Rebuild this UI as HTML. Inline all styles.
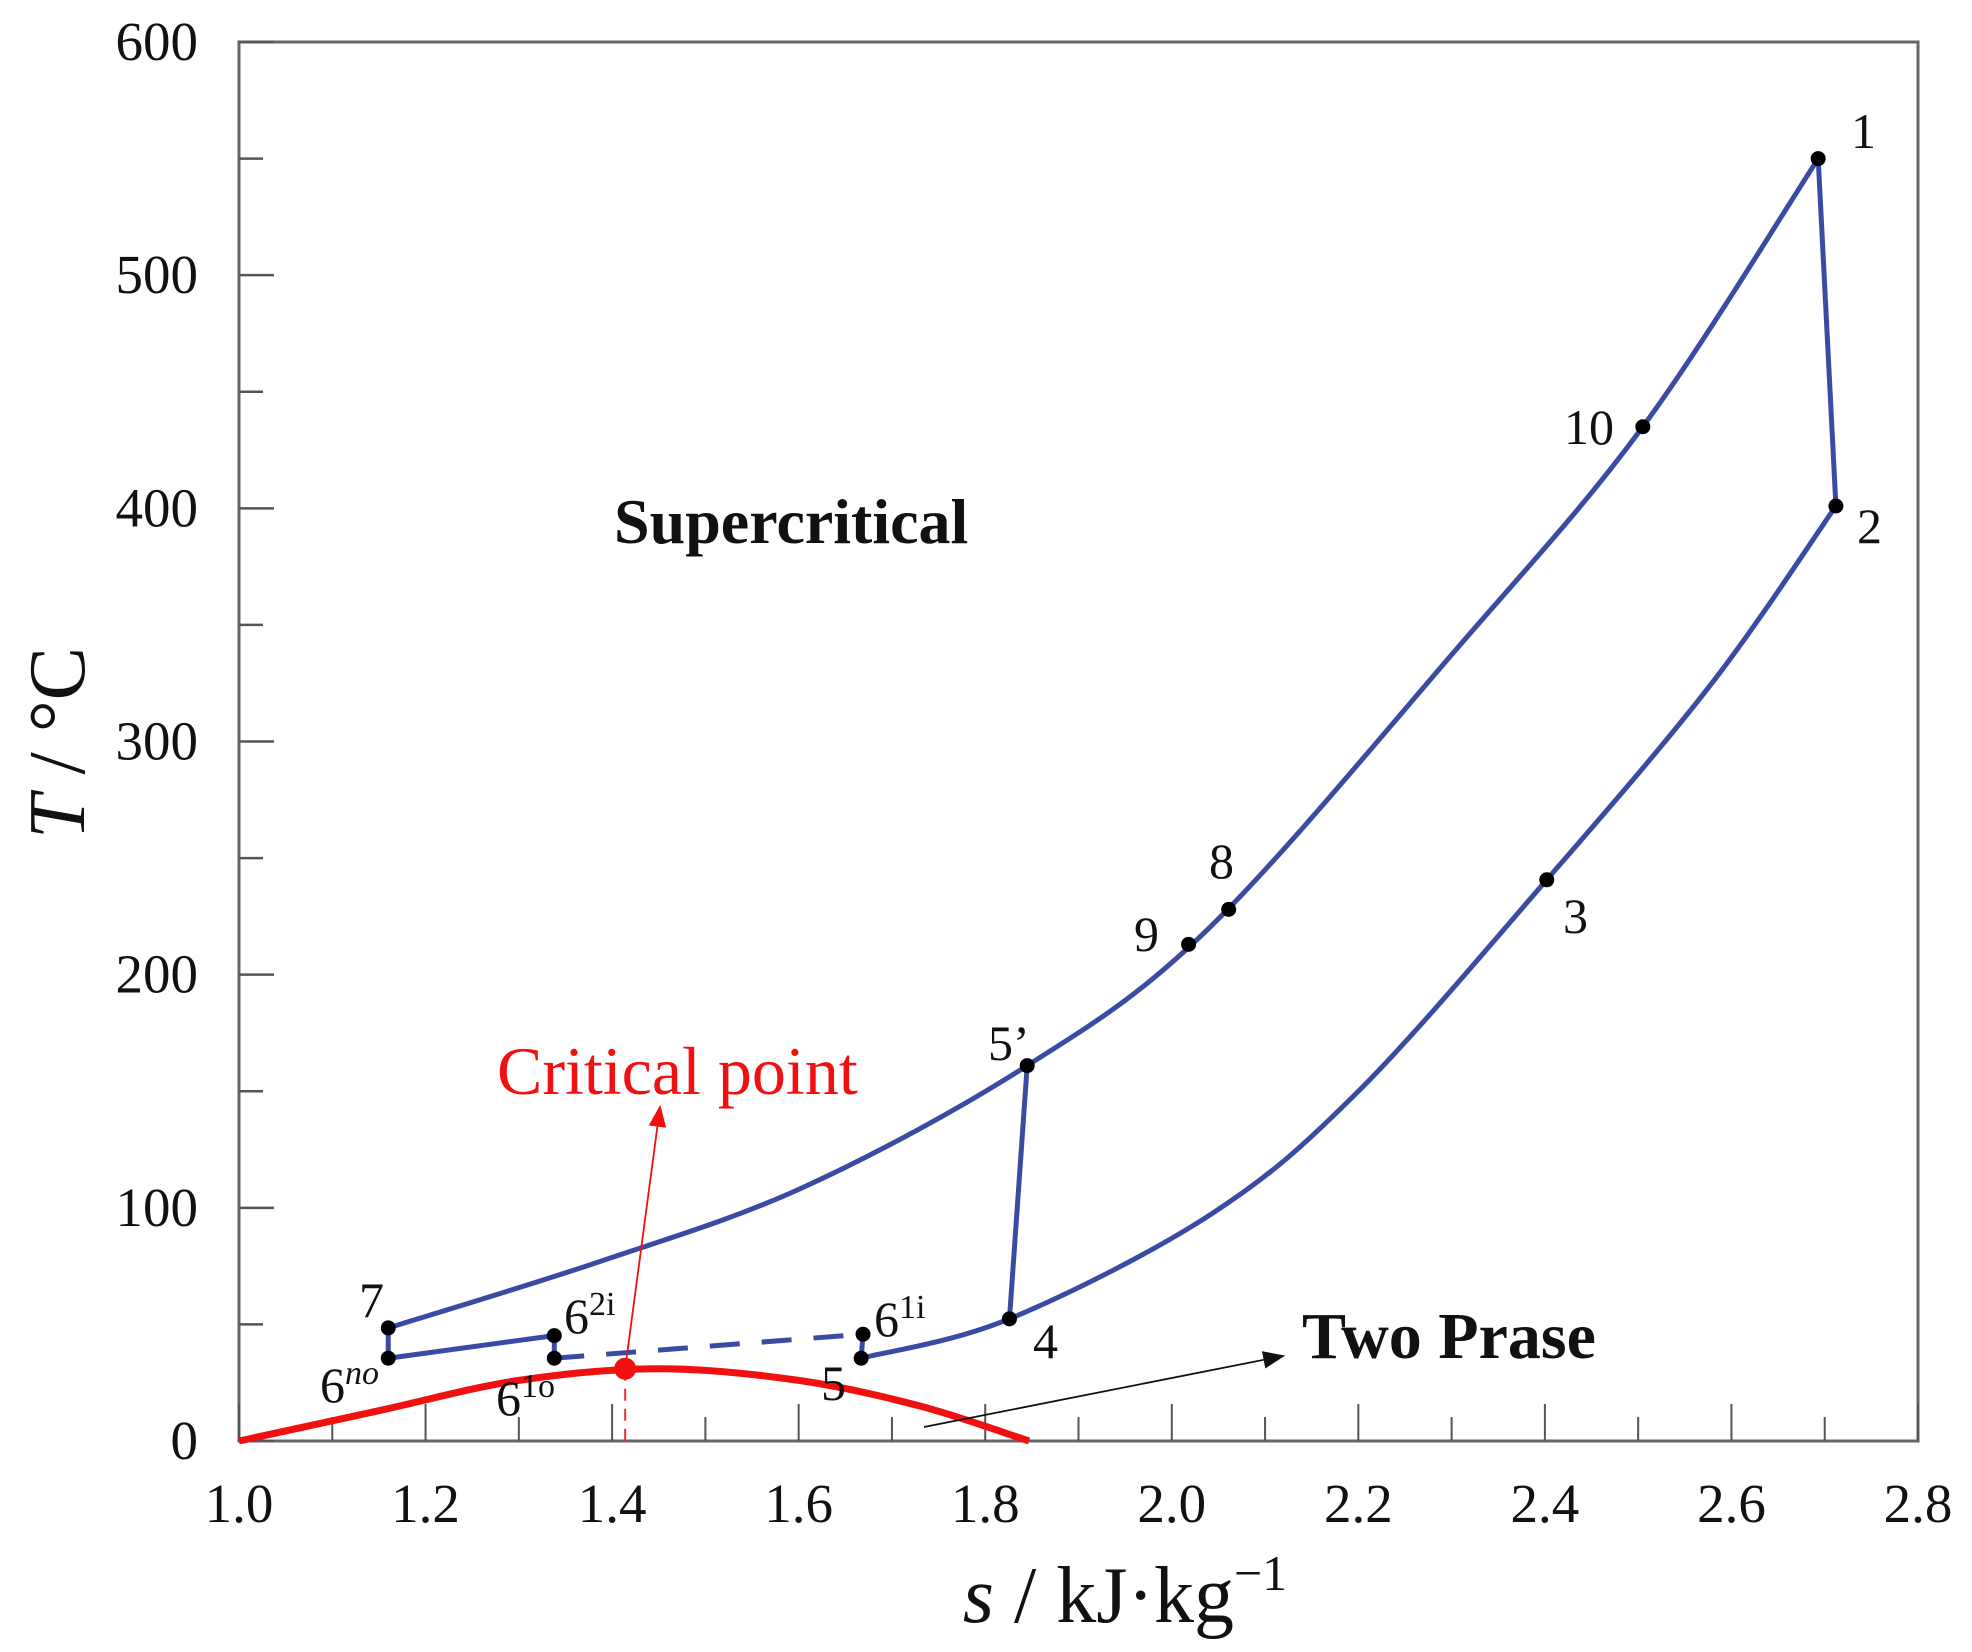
<!DOCTYPE html>
<html><head><meta charset="utf-8"><style>
html,body{margin:0;padding:0;background:#fff;}
svg{display:block;font-family:"Liberation Serif",serif;}
</style></head><body>
<svg id="chart" width="1972" height="1652" viewBox="0 0 1972 1652">
<g id="axes"></g>
<g id="marks"></g>
<g id="labels"></g>
</svg>
<script>
// ---- data (s in kJ/kg·K, T in °C) ----
const xTicks = [1.0,1.2,1.4,1.6,1.8,2.0,2.2,2.4,2.6,2.8];
const xTickLabels = ["1.0","1.2","1.4","1.6","1.8","2.0","2.2","2.4","2.6","2.8"];
const yTicks = [0,100,200,300,400,500,600];
const yTickLabels = ["0","100","200","300","400","500","600"];
const highS = [1.16,1.387,1.606,1.845,2.04,2.306,2.505,2.693];
const highT = [48.5,77,109,161,220,340,435,550];
const lowS = [1.667,1.826,2.043,2.2,2.402,2.579,2.712];
const lowT = [35.5,52.4,97.5,150,240.7,325,401];
const domeS = [1.0,1.15,1.3,1.45,1.6,1.73,1.847];
const domeT = [0,13,26,31,26,15,0];
const ptNames = ["1","2","3","4","5","5’","9","8","10","7","6no","6-2i","6-1o","6-1i"];
const ptS = [2.693,2.712,2.402,1.826,1.667,1.845,2.018,2.061,2.505,1.16,1.16,1.338,1.338,1.669];
const ptT = [550,401,240.7,52.4,35.5,161,213,228,435,48.5,35.5,45.2,35.5,45.8];
const critS = [1.414];
const critT = [31];

const X0=239,X1=1918,Y0=1441,Y1=42;
const xs = s => X0+(s-1.0)/(2.8-1.0)*(X1-X0);
const yt = t => Y0-(t/600)*(Y0-Y1);
const NS="http://www.w3.org/2000/svg";
function mk(tag,attrs,parent,text){const e=document.createElementNS(NS,tag);for(const k in attrs)e.setAttribute(k,attrs[k]);if(text!==undefined)e.textContent=text;parent.appendChild(e);return e;}
const axes=document.getElementById('axes'),marks=document.getElementById('marks'),labels=document.getElementById('labels');

const fr=mk('rect',{x:X0,y:Y1,width:X1-X0,height:Y0-Y1,fill:'none',stroke:'#666','stroke-width':3},axes);


for(let i=0;i<=18;i++){const s=1+i*0.1;const len=(i%2===0)?37:24;
 const l=mk('line',{x1:xs(s),x2:xs(s),y1:Y0,y2:Y0-len,stroke:'#555','stroke-width':2},axes);
 
 }
xTicks.forEach((v,i)=>{const t=mk('text',{x:xs(v),y:1522,'font-size':55,'text-anchor':'middle',fill:'#111'},axes,xTickLabels[i]);
 
 });
for(let i=0;i<=12;i++){const t=i*50;const len=(i%2===0)?35:24;
 const l=mk('line',{x1:X0,x2:X0+len,y1:yt(t),y2:yt(t),stroke:'#555','stroke-width':2.5},axes);
 
 }
yTicks.forEach((v,i)=>{const t=mk('text',{x:198,y:yt(v)+18,'font-size':55,'text-anchor':'end',fill:'#111'},axes,yTickLabels[i]);
 
 });
const xt=mk('text',{x:1125,y:1622,'font-size':80,'text-anchor':'middle',fill:'#111'},axes);


xt.innerHTML='<tspan font-style="italic">s</tspan> / kJ·kg<tspan dy="-32" font-size="50">−1</tspan>';
const ytl=mk('text',{x:0,y:0,'font-size':80,'text-anchor':'middle',fill:'#111',transform:'translate(84,743) rotate(-90)'},axes);


ytl.innerHTML='<tspan font-style="italic">T</tspan> / °C';

function smooth(S,T){const p=S.map((s,i)=>[xs(s),yt(T[i])]);let d='M'+p[0][0]+','+p[0][1];
 for(let i=0;i<p.length-1;i++){const a=p[i-1]||p[i],b=p[i],c=p[i+1],e=p[i+2]||c;
  const c1=[b[0]+(c[0]-a[0])/6,b[1]+(c[1]-a[1])/6],c2=[c[0]-(e[0]-b[0])/6,c[1]-(e[1]-b[1])/6];
  d+=` C${c1[0]},${c1[1]} ${c2[0]},${c2[1]} ${c[0]},${c[1]}`;}return d;}
const BLUE='#3a4ba3';
const dome=mk('path',{d:smooth(domeS,domeT),fill:'none',stroke:'#f01010','stroke-width':7},marks);


const hp=mk('path',{d:smooth(highS,highT),fill:'none',stroke:BLUE,'stroke-width':5},marks);


const lp=mk('path',{d:smooth(lowS,lowT),fill:'none',stroke:BLUE,'stroke-width':5},marks);


function seg(i,j,name,dash){const a={x1:xs(ptS[i]),y1:yt(ptT[i]),x2:xs(ptS[j]),y2:yt(ptT[j]),stroke:BLUE,'stroke-width':5};if(dash)a['stroke-dasharray']=dash;
 const l=mk('line',a,marks);
 
 }
seg(0,1,'expansion-1-2');
seg(5,3,'compression-5p-4');
seg(9,10,'segment-7-6no');
seg(10,11,'segment-6no-6-2i');
seg(11,12,'segment-6-2i-6-1o');
seg(12,13,'dashed-6-1o-6-1i','30 22');
seg(13,4,'segment-6-1i-5');
const cx=xs(critS[0]),cy=yt(critT[0]);
const vg=mk('line',{x1:cx,y1:cy,x2:cx,y2:Y0,stroke:'#f03030','stroke-width':2,'stroke-dasharray':'12 8'},marks);


const cp=mk('circle',{cx:cx,cy:cy,r:11,fill:'#f01010'},marks);


ptS.forEach((s,i)=>{const c=mk('circle',{cx:xs(s),cy:yt(ptT[i]),r:7.5,fill:'#000'},marks);
 
 });
mk('defs',{},labels).innerHTML='<marker id="arR" viewBox="0 0 10 8" markerWidth="22" markerHeight="18" refX="9" refY="4" orient="auto" markerUnits="userSpaceOnUse"><path d="M0,0 L10,4 L0,8z" fill="#f01010"/></marker><marker id="arK" viewBox="0 0 10 8" markerWidth="22" markerHeight="18" refX="9" refY="4" orient="auto" markerUnits="userSpaceOnUse"><path d="M0,0 L10,4 L0,8z" fill="#111"/></marker>';
const ra=mk('line',{x1:cx,y1:cy,x2:660,y2:1107,stroke:'#f01010','stroke-width':1.8,'marker-end':'url(#arR)'},labels);


const ka=mk('line',{x1:924,y1:1427,x2:1283,y2:1356,stroke:'#111','stroke-width':1.8,'marker-end':'url(#arK)'},labels);


function lab(x,y,html,name,size,extra){const t=mk('text',Object.assign({x:x,y:y,'font-size':size||50,fill:'#111'},extra||{}),labels);t.innerHTML=html;
 
 return t;}
lab(1851,148,'1','label-1');
lab(1857,543,'2','label-2');
lab(1563,933,'3','label-3');
lab(1033,1358,'4','label-4');
lab(821,1400,'5','label-5');
lab(988,1060,'5’','label-5-prime');
lab(1134,951,'9','label-9');
lab(1209,878,'8','label-8');
lab(1564,444,'10','label-10');
lab(359,1317,'7','label-7');
lab(320,1402,'6<tspan dy="-18" font-size="34" font-style="italic">no</tspan>','label-6no');
lab(496,1415,'6<tspan dy="-18" font-size="34">1o</tspan>','label-6-1o');
lab(564,1333,'6<tspan dy="-18" font-size="34">2i</tspan>','label-6-2i');
lab(874,1336,'6<tspan dy="-18" font-size="34">1i</tspan>','label-6-1i');
lab(497,1094,'Critical point','critical-point-label',68,{fill:'#f01010'});
lab(614,543,'Supercritical','supercritical-label',64,{'font-weight':'bold'});
lab(1302,1358,'Two Prase','two-phase-label',66,{'font-weight':'bold'});
</script>
</body></html>
